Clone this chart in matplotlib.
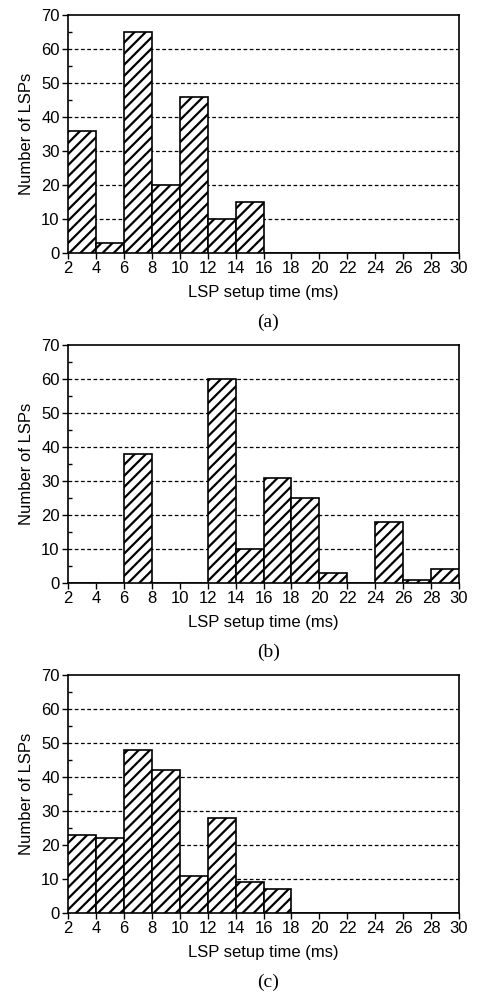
import matplotlib
matplotlib.use("Agg")
import matplotlib.pyplot as plt
import numpy as np

bin_edges = [2, 4, 6, 8, 10, 12, 14, 16, 18, 20, 22, 24, 26, 28, 30]
counts_a = [36, 3, 65, 20, 46, 10, 15, 0, 0, 0, 0, 0, 0, 0]
counts_b = [0, 0, 38, 0, 0, 60, 10, 31, 25, 3, 0, 18, 1, 4]
counts_c = [23, 22, 48, 42, 11, 28, 9, 7, 0, 0, 0, 0, 0, 0]
captions = ["(a)", "(b)", "(c)"]
xlabel = "LSP setup time (ms)"
ylabel = "Number of LSPs"

plt.rcParams['font.family'] = ['Liberation Sans', 'DejaVu Sans']
plt.rcParams['hatch.linewidth'] = 1.6
plt.rcParams['hatch.color'] = '#4a4a4a'

W, H = 478, 992
fig = plt.figure(figsize=(W / 100, H / 100), dpi=100)

tops = [15, 345, 675]
left, right = 68, 459
height = 238

for top, counts, cap in zip(tops, [counts_a, counts_b, counts_c], captions):
    ax = fig.add_axes([left / W, 1 - (top + height) / H, (right - left) / W, height / H])
    lefts = np.array(bin_edges[:-1])
    widths = np.diff(bin_edges)
    ax.bar(lefts, counts, width=widths, align='edge', color='white',
           edgecolor='black', linewidth=1.2, hatch='///', zorder=3)
    ax.set_xlim(2, 30)
    ax.set_ylim(0, 70)
    ax.set_xticks(bin_edges)
    ax.set_yticks(range(0, 71, 10))
    ax.set_yticks(range(5, 70, 10), minor=True)
    for y in range(10, 70, 10):
        ax.axhline(y, color='black', linestyle=(0, (3, 2)), linewidth=0.9, zorder=1)
    ax.tick_params(axis='both', which='major', labelsize=12, direction='out',
                   length=4, width=1, pad=2)
    ax.tick_params(axis='y', which='minor', direction='in', length=3, width=1)
    for s in ax.spines.values():
        s.set_linewidth(1.2)
    ax.set_xlabel(xlabel, fontsize=12, labelpad=6)
    ax.set_ylabel(ylabel, fontsize=12, labelpad=5)
    fig.text(0.5 * (left + right) / W + 0.01, 1 - (top + 307) / H, cap,
             ha='center', va='center', fontsize=14, family='Liberation Serif')

fig.savefig("out.png", dpi=100)
